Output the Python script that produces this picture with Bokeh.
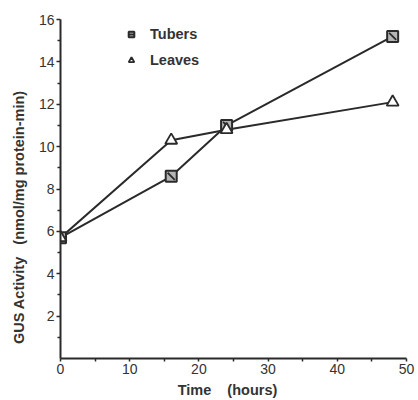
import math
from bokeh.plotting import figure
from bokeh.models import Legend, LegendItem, FixedTicker, Range1d
from bokeh.embed import file_html
from bokeh.resources import INLINE

hours = [0, 16, 24, 48]
tubers = [5.7, 8.6, 11.0, 15.2]
leaves = [5.7, 10.3, 10.8, 12.1]
x_ticks = [0, 10, 20, 30, 40, 50]
y_ticks = [2, 4, 6, 8, 10, 12, 14, 16]

FONT = "Liberation Sans"
NB = "\u00a0"
INK = "#2a2a2a"

p = figure(width=418, height=400, output_backend="svg", toolbar_location=None,
           x_range=Range1d(0, 50), y_range=Range1d(0, 16),
           min_border_left=60, min_border_right=12, min_border_top=19, min_border_bottom=41)
p.outline_line_color = None
p.grid.visible = False
p.background_fill_color = "white"

p.line(hours, tubers, line_color=INK, line_width=2)
p.line(hours, leaves, line_color=INK, line_width=2)

sq = p.scatter(hours, tubers, marker="square", size=11, fill_color="#b5b5b5",
               line_color=INK, line_width=2)
sl = p.scatter(hours, tubers, marker="dash", size=10, angle=-math.pi / 4,
               line_color=INK, line_width=1.8)
tr = p.scatter(hours, leaves, marker="triangle", size=12, fill_color="white",
               line_color=INK, line_width=1.8)

legend = Legend(items=[LegendItem(label="Tubers", renderers=[sq, sl]),
                       LegendItem(label="Leaves", renderers=[tr])],
                location=(64, 290), border_line_color=None, background_fill_alpha=0,
                label_text_font=FONT, label_text_font_style="bold",
                label_text_font_size="14.5px", label_text_color="#333333",
                glyph_width=14, glyph_height=14, spacing=10, label_standoff=12, padding=0)
p.add_layout(legend)

for ax in (p.xaxis[0], p.yaxis[0]):
    ax.axis_line_color = INK
    ax.axis_line_width = 2
    ax.major_tick_line_color = INK
    ax.minor_tick_line_color = INK
    ax.major_tick_line_width = 1.5
    ax.minor_tick_line_width = 1.5
    ax.major_tick_in = 0
    ax.minor_tick_in = 0
    ax.major_label_text_font = FONT
    ax.major_label_text_font_size = "14px"
    ax.major_label_text_color = "#333333"
    ax.axis_label_text_font = FONT
    ax.axis_label_text_font_style = "bold"
    ax.axis_label_text_font_size = "14.5px"
    ax.axis_label_text_color = "#333333"

p.xaxis.ticker = FixedTicker(ticks=x_ticks, minor_ticks=[5, 15, 25, 35, 45])
p.yaxis.ticker = FixedTicker(ticks=y_ticks, minor_ticks=[1, 3, 5, 7, 9, 11, 13, 15])
p.xaxis.major_tick_out = 3
p.xaxis.minor_tick_out = 3
p.yaxis.major_tick_out = 4
p.yaxis.minor_tick_out = 3
p.xaxis.major_label_standoff = 2
p.yaxis.major_label_standoff = 2
p.xaxis.axis_label_standoff = 5
p.yaxis.axis_label_standoff = 9

p.xaxis.axis_label = "Time" + NB * 4 + "(hours)" + NB * 3
p.yaxis.axis_label = "GUS Activity" + NB * 3 + "(nmol/mg protein-min)" + NB * 14

open("out.html", "w").write(file_html(p, INLINE))
